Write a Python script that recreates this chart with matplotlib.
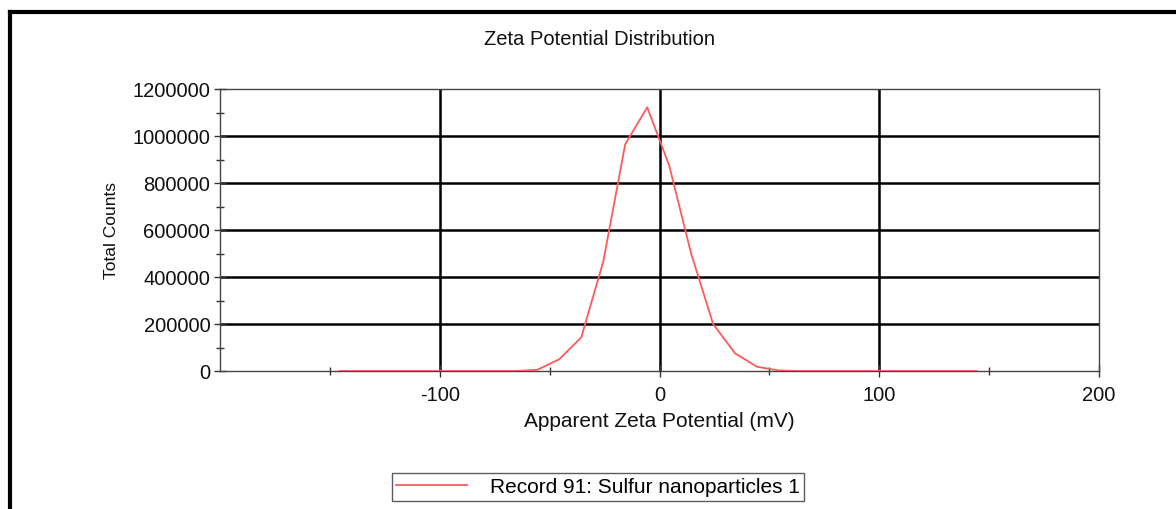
import matplotlib as mpl
mpl.use('Agg')
from matplotlib import pyplot as plt
from matplotlib.lines import Line2D
import numpy as np

plt.rcParams['font.family'] = ['Liberation Sans', 'DejaVu Sans']
plt.rcParams['axes.unicode_minus'] = False

# zeta potential (mV) and total counts
zeta = [-145.6, -135.6, -125.6, -115.6, -105.6, -95.6, -85.6, -75.6, -65.6,
        -55.6, -45.6, -35.6, -25.6, -15.6, -5.6, 4.4, 14.4, 24.4, 34.4,
        44.4, 54.4, 64.4, 74.4, 84.4, 94.4, 104.4, 114.4, 124.4, 134.4, 144.4]
counts = [0, 0, 0, 0, 0, 0, 0, 0, 0,
          5000, 50000, 143000, 465000, 965000, 1122000, 875000, 500000, 200000, 75000,
          18000, 2000, 0, 0, 0, 0, 0, 0, 0, 0, 0]

x_ticks = [-100, 0, 100, 200]
x_minor = [-150, -50, 50, 150]
y_ticks = [0, 200000, 400000, 600000, 800000, 1000000, 1200000]
y_minor = [100000, 300000, 500000, 700000, 900000, 1100000]

fig = plt.figure(figsize=(11.76, 5.10), dpi=100)
ax = fig.add_axes([220/1176, 1-372/510, (1099-220)/1176, (372-90)/510])

# thick grid lines
for v in [-100, 0, 100]:
    ax.axvline(v, color='black', linewidth=1.8, zorder=1)
for h in [200000, 400000, 600000, 800000, 1000000]:
    ax.axhline(h, color='black', linewidth=1.8, zorder=1)

ax.plot(zeta, counts, color='#ff5a5a', linewidth=1.3, zorder=3,
        label='Record 91: Sulfur nanoparticles 1')

ax.set_xlim(-200, 200)
ax.set_ylim(0, 1200000)
ax.set_xticks(x_ticks)
ax.set_xticks(x_minor, minor=True)
ax.set_yticks(y_ticks)
ax.set_yticks(y_minor, minor=True)
ax.set_yticklabels([str(t) for t in y_ticks])
ax.tick_params(which='major', direction='inout', length=8, width=1, color='#333333',
               labelsize=14.5, labelcolor='#111111')
ax.tick_params(which='minor', direction='inout', length=6, width=1, color='#333333')
ax.tick_params(axis='x', pad=6)
ax.tick_params(axis='y', pad=3)
for s in ax.spines.values():
    s.set_color('#444444')
    s.set_linewidth(1)

fig.text(600/1176, 1-40/510, 'Zeta Potential Distribution', fontsize=14.5,
         ha='center', va='center', color='#111111')
ax.set_xlabel('Apparent Zeta Potential (mV)', fontsize=15, labelpad=5, color='#111111')
ax.set_ylabel('Total Counts', fontsize=12.5, labelpad=10, color='#111111')

leg = fig.legend(loc='center', bbox_to_anchor=(598/1176, 1-488/510), fontsize=15,
                 frameon=True, fancybox=False, handlelength=3.4, handletextpad=1.1,
                 borderpad=0.2, borderaxespad=0)
leg.get_frame().set_edgecolor('#333333')
leg.get_frame().set_linewidth(1)

# page frame
fig.add_artist(Line2D([10/1176, 1], [1-13/510, 1-13/510], color='black', linewidth=3,
                      transform=fig.transFigure))
fig.add_artist(Line2D([10/1176, 10/1176], [0, 1-13/510], color='black', linewidth=3,
                      transform=fig.transFigure))

fig.savefig('out.png', dpi=100)
